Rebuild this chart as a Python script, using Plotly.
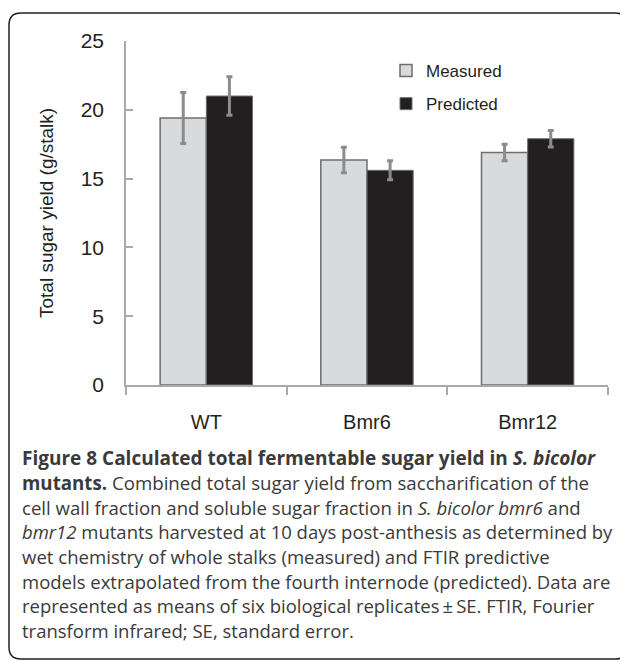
import plotly.graph_objects as go

categories = ["WT", "Bmr6", "Bmr12"]
measured = [19.4, 16.35, 16.9]
measured_se = [1.85, 0.93, 0.6]
predicted = [21.0, 15.6, 17.9]
predicted_se = [1.4, 0.69, 0.6]
y_ticks = [0, 5, 10, 15, 20, 25]

caption_lines = [
    "<b>Figure 8 Calculated total fermentable sugar yield in <i>S. bicolor</i></b>",
    "<b>mutants.</b> Combined total sugar yield from saccharification of the",
    "cell wall fraction and soluble sugar fraction in <i>S. bicolor bmr6</i> and",
    "<i>bmr12</i> mutants harvested at 10 days post-anthesis as determined by",
    "wet chemistry of whole stalks (measured) and FTIR predictive",
    "models extrapolated from the fourth internode (predicted). Data are",
    "represented as means of six biological replicates\u2009\u00b1\u2009SE. FTIR, Fourier",
    "transform infrared; SE, standard error.",
]
caption_sizes = [19.0, 18.7, 18.6, 18.5, 18.6, 18.5, 18.5, 18.5]

# page body has an 8px margin: the figure is drawn offset by 8px
OFF = 8
W, H = 628 - OFF, 662 - OFF
L, T = 126 - OFF, 41 - OFF
R = W - (608 - OFF)
B = H - (385 - OFF)
PW, PH = W - L - R, H - T - B


def px(x):
    return (x - OFF - L) / PW


def py(y):
    return (H - B - (y - OFF)) / PH


fig = go.Figure()
fig.add_trace(go.Bar(
    x=categories, y=measured, name="Measured",
    marker=dict(color="#d9dadc", line=dict(color="#6d6e71", width=1.5)),
    error_y=dict(type="data", array=measured_se, color="#8c8c8c", thickness=3, width=3),
    legendgroup="m",
))
fig.add_trace(go.Bar(
    x=categories, y=predicted, name="Predicted",
    marker=dict(color="#231f20", line=dict(color="#6d6e71", width=1)),
    error_y=dict(type="data", array=predicted_se, color="#8c8c8c", thickness=3, width=3),
    legendgroup="p",
))

SANS = "Liberation Sans, Arial, sans-serif"

fig.update_layout(
    width=W, height=H, autosize=False,
    margin=dict(l=L, r=R, t=T, b=B, pad=0),
    paper_bgcolor="white", plot_bgcolor="white",
    barmode="group", bargap=0.425, bargroupgap=0,
    showlegend=True,
    legend=dict(
        x=px(386), y=py(53), xanchor="left", yanchor="top",
        font=dict(family=SANS, size=17, color="#231f20"),
        bgcolor="rgba(0,0,0,0)", traceorder="grouped", tracegroupgap=8,
    ),
    xaxis=dict(
        showline=True, linecolor="#a7a9ac", linewidth=1.5,
        ticks="outside", ticklen=8, tickcolor="#a7a9ac", tickwidth=1.5,
        tickson="boundaries", showgrid=False, zeroline=False,
        tickfont=dict(family=SANS, size=20, color="#231f20"),
        ticklabelstandoff=18,
    ),
    yaxis=dict(
        range=[0, 25], tickvals=y_ticks, showgrid=False, zeroline=False,
        showline=True, linecolor="#a7a9ac", linewidth=1.5,
        ticks="inside", ticklen=7, tickcolor="#a7a9ac", tickwidth=1.5,
        tickfont=dict(family=SANS, size=21, color="#231f20"),
        ticklabelstandoff=16,
    ),
)

# y-axis title
fig.add_annotation(
    text="Total sugar yield (g/stalk)", textangle=-90,
    xref="paper", yref="paper", x=px(46), y=py(213),
    xanchor="center", yanchor="middle", showarrow=False,
    font=dict(family=SANS, size=19, color="#231f20"),
)

# caption
y0, dy = 458, 24.6
for i, line in enumerate(caption_lines):
    fig.add_annotation(
        text=line, xref="paper", yref="paper",
        x=px(20), y=py(y0 + i * dy), xanchor="left", yanchor="middle",
        showarrow=False, align="left",
        font=dict(family="Open Sans, sans-serif", size=caption_sizes[i], color="#3a3a3a"),
    )

# rounded frame
x0, x1, yt, yb, r = 9, 627, 13, 659, 12
path = (
    f"M {px(x0 + r)},{py(yt)} L {px(x1 - r)},{py(yt)} "
    f"Q {px(x1)},{py(yt)} {px(x1)},{py(yt + r)} "
    f"L {px(x1)},{py(yb - r)} Q {px(x1)},{py(yb)} {px(x1 - r)},{py(yb)} "
    f"L {px(x0 + r)},{py(yb)} Q {px(x0)},{py(yb)} {px(x0)},{py(yb - r)} "
    f"L {px(x0)},{py(yt + r)} Q {px(x0)},{py(yt)} {px(x0 + r)},{py(yt)} Z"
)
fig.add_shape(type="path", path=path, xref="paper", yref="paper",
              line=dict(color="#231f20", width=1.5), fillcolor="rgba(0,0,0,0)")

fig.write_html("out.html")
